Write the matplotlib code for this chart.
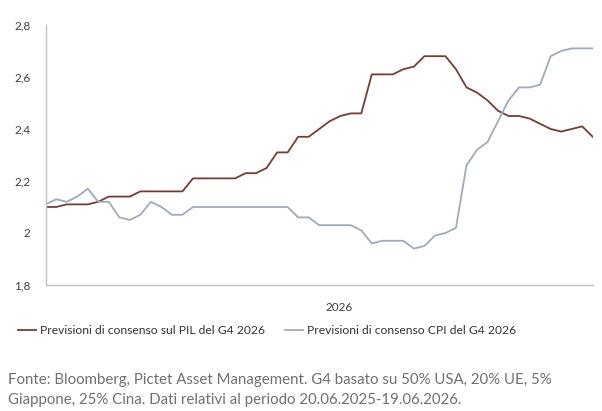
import matplotlib
matplotlib.use("Agg")
import matplotlib.pyplot as plt
import pandas as pd

# weekly data 20.06.2025 - 19.06.2026
dates = pd.date_range("2025-06-20", periods=53, freq="7D")

pil = [2.10, 2.10, 2.11, 2.11, 2.11, 2.12, 2.14, 2.14, 2.14, 2.16,
       2.16, 2.16, 2.16, 2.16, 2.21, 2.21, 2.21, 2.21, 2.21, 2.23,
       2.23, 2.25, 2.31, 2.31, 2.37, 2.37, 2.40, 2.43, 2.45, 2.46,
       2.46, 2.61, 2.61, 2.61, 2.63, 2.64, 2.68, 2.68, 2.68, 2.63,
       2.56, 2.54, 2.51, 2.47, 2.45, 2.45, 2.44, 2.42, 2.40, 2.39,
       2.40, 2.41, 2.37]

cpi = [2.11, 2.13, 2.12, 2.14, 2.17, 2.12, 2.12, 2.06, 2.05, 2.07,
       2.12, 2.10, 2.07, 2.07, 2.10, 2.10, 2.10, 2.10, 2.10, 2.10,
       2.10, 2.10, 2.10, 2.10, 2.06, 2.06, 2.03, 2.03, 2.03, 2.03,
       2.01, 1.96, 1.97, 1.97, 1.97, 1.94, 1.95, 1.99, 2.00, 2.02,
       2.26, 2.32, 2.35, 2.43, 2.51, 2.56, 2.56, 2.57, 2.68, 2.70,
       2.71, 2.71, 2.71]

yticks = [1.8, 2.0, 2.2, 2.4, 2.6, 2.8]
ytick_labels = ["1,8", "2", "2,2", "2,4", "2,6", "2,8"]

plt.rcParams['font.family'] = ['Lato', 'DejaVu Sans']

fig = plt.figure(figsize=(6.02, 4.11), dpi=100)
ax = fig.add_axes([0.0759, 0.3066, 0.9087, 0.6326])

ax.plot(dates, pil, color='#7a3b32', lw=1.3, label='Previsioni di consenso sul PIL del G4 2026')
ax.plot(dates, cpi, color='#9eabbe', lw=1.3, label='Previsioni di consenso CPI del G4 2026')

ax.set_xlim(dates[0], dates[-1])
ax.set_ylim(1.8, 2.8)
ax.set_yticks(yticks)
ax.set_yticklabels(ytick_labels)
ax.set_xticks([pd.Timestamp("2026-01-01")])
ax.set_xticklabels(["2026"])
ax.tick_params(axis='both', length=0, labelsize=8.5, colors='#404040')
ax.tick_params(axis='y', pad=11)
ax.tick_params(axis='x', pad=12)

for s in ['top', 'right']:
    ax.spines[s].set_visible(False)
for s in ['left', 'bottom']:
    ax.spines[s].set_color('#c0c0c0')
    ax.spines[s].set_linewidth(1.0)

fig.legend(loc='center left', bbox_to_anchor=(0.012, 0.195), ncol=2, frameon=False,
           fontsize=8.7, handlelength=1.5, handletextpad=0.35, columnspacing=1.6,
           labelcolor='#333333')

fig.text(0.013, (411 - 380) / 411, "Fonte: Bloomberg, Pictet Asset Management. G4 basato su 50% USA, 20% UE, 5%",
         fontsize=10.8, color='#707070', va='center')
fig.text(0.013, (411 - 400) / 411, "Giappone, 25% Cina. Dati relativi al periodo 20.06.2025-19.06.2026.",
         fontsize=10.8, color='#707070', va='center')

fig.savefig("out.png", dpi=100, facecolor='white')
